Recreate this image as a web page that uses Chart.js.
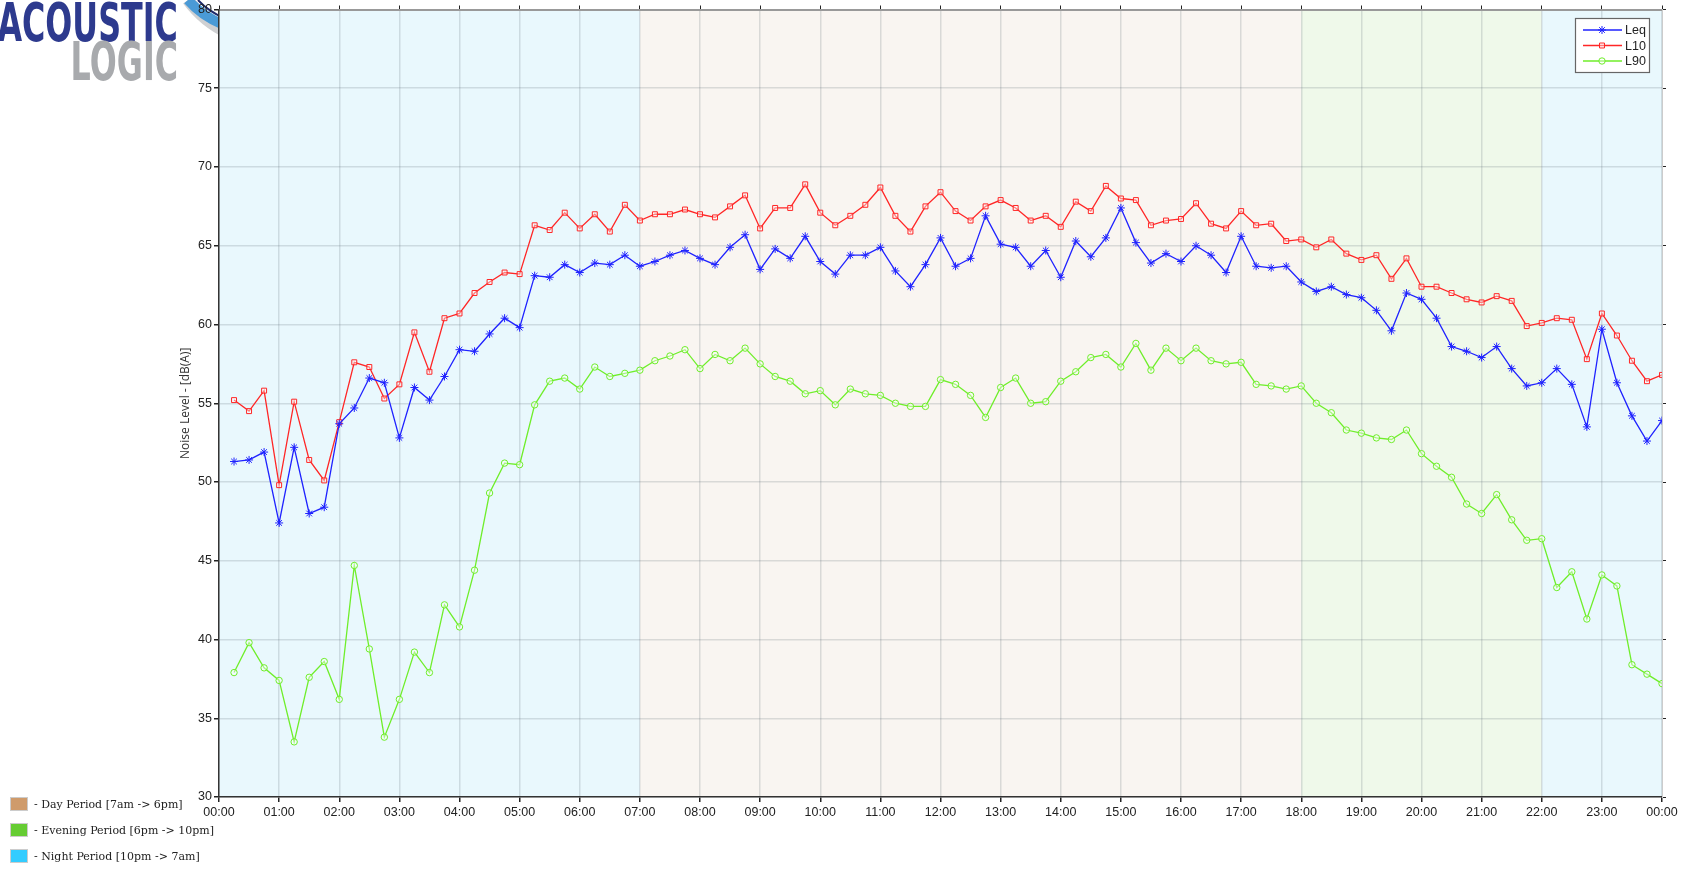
<!DOCTYPE html>
<html>
<head>
<meta charset="utf-8">
<script src="https://cdn.jsdelivr.net/npm/chart.js@4.4.1/dist/chart.umd.min.js"></script>
<style>
  html, body { margin: 0; padding: 0; background: #fff; overflow: hidden; }
  #wrap { position: relative; width: 1683px; height: 870px; }
  #chart1 { position: absolute; left: 0; top: 0; }
  .logo { position: absolute; font-family: "DejaVu Sans", sans-serif; font-weight: bold;
          transform-origin: right top; white-space: nowrap; text-align: right; }
  .key { position: absolute; left: 10px; font-family: "DejaVu Serif", "Liberation Serif", serif;
         font-size: 11px; color: #222; display: flex; align-items: center; }
  .key span.sw { display: inline-block; width: 16px; height: 12px; margin-right: 6px;
                 border: 1px solid #ccc; }
</style>
</head>
<body>
<div id="wrap">
  <svg style="position:absolute;left:180px;top:0" width="80" height="40">
    <path d="M8,0 Q24,22 50,34" stroke="#cfd0d2" stroke-width="12" fill="none"/>
    <path d="M8,0 Q22,16 42,24" stroke="#4a9ad6" stroke-width="10" fill="none"/>
    <path d="M18,0 Q28,11 44,18" stroke="#1d2a6b" stroke-width="2" fill="none"/>
  </svg>
  <canvas id="chart1" width="1683" height="870"></canvas>
  <div class="logo" style="right:1505px;top:-8px;font-size:53px;color:#2d3a8e;transform:scaleX(0.6)">ACOUSTIC</div>
  <div class="logo" style="right:1505px;top:31px;font-size:53px;color:#a8aaad;transform:scaleX(0.6)">LOGIC</div>
  <div class="key" style="top:797px"><span class="sw" style="background:#cf9b6b"></span>- Day Period [7am -&gt; 6pm]</div>
  <div class="key" style="top:823px"><span class="sw" style="background:#66cc33"></span>- Evening Period [6pm -&gt; 10pm]</div>
  <div class="key" style="top:849px"><span class="sw" style="background:#33ccff"></span>- Night Period [10pm -&gt; 7am]</div>
</div>
<script>
// 15 minute intervals, 00:15 .. 24:00 (hours)
const times = [];
for (let i = 1; i <= 96; i++) times.push(i / 4);

const leq = [
    51.3, 51.4, 51.9, 47.4, 52.2, 48.0, 48.4, 53.7, 54.7, 56.6, 56.3, 52.8,
    56.0, 55.2, 56.7, 58.4, 58.3, 59.4, 60.4, 59.8, 63.1, 63.0, 63.8, 63.3,
    63.9, 63.8, 64.4, 63.7, 64.0, 64.4, 64.7, 64.2, 63.8, 64.9, 65.7, 63.5,
    64.8, 64.2, 65.6, 64.0, 63.2, 64.4, 64.4, 64.9, 63.4, 62.4, 63.8, 65.5,
    63.7, 64.2, 66.9, 65.1, 64.9, 63.7, 64.7, 63.0, 65.3, 64.3, 65.5, 67.4,
    65.2, 63.9, 64.5, 64.0, 65.0, 64.4, 63.3, 65.6, 63.7, 63.6, 63.7, 62.7,
    62.1, 62.4, 61.9, 61.7, 60.9, 59.6, 62.0, 61.6, 60.4, 58.6, 58.3, 57.9,
    58.6, 57.2, 56.1, 56.3, 57.2, 56.2, 53.5, 59.7, 56.3, 54.2, 52.6, 53.9
];
const l10 = [
    55.2, 54.5, 55.8, 49.8, 55.1, 51.4, 50.1, 53.8, 57.6, 57.3, 55.3, 56.2,
    59.5, 57.0, 60.4, 60.7, 62.0, 62.7, 63.3, 63.2, 66.3, 66.0, 67.1, 66.1,
    67.0, 65.9, 67.6, 66.6, 67.0, 67.0, 67.3, 67.0, 66.8, 67.5, 68.2, 66.1,
    67.4, 67.4, 68.9, 67.1, 66.3, 66.9, 67.6, 68.7, 66.9, 65.9, 67.5, 68.4,
    67.2, 66.6, 67.5, 67.9, 67.4, 66.6, 66.9, 66.2, 67.8, 67.2, 68.8, 68.0,
    67.9, 66.3, 66.6, 66.7, 67.7, 66.4, 66.1, 67.2, 66.3, 66.4, 65.3, 65.4,
    64.9, 65.4, 64.5, 64.1, 64.4, 62.9, 64.2, 62.4, 62.4, 62.0, 61.6, 61.4,
    61.8, 61.5, 59.9, 60.1, 60.4, 60.3, 57.8, 60.7, 59.3, 57.7, 56.4, 56.8
];
const l90 = [
    37.9, 39.8, 38.2, 37.4, 33.5, 37.6, 38.6, 36.2, 44.7, 39.4, 33.8, 36.2,
    39.2, 37.9, 42.2, 40.8, 44.4, 49.3, 51.2, 51.1, 54.9, 56.4, 56.6, 55.9,
    57.3, 56.7, 56.9, 57.1, 57.7, 58.0, 58.4, 57.2, 58.1, 57.7, 58.5, 57.5,
    56.7, 56.4, 55.6, 55.8, 54.9, 55.9, 55.6, 55.5, 55.0, 54.8, 54.8, 56.5,
    56.2, 55.5, 54.1, 56.0, 56.6, 55.0, 55.1, 56.4, 57.0, 57.9, 58.1, 57.3,
    58.8, 57.1, 58.5, 57.7, 58.5, 57.7, 57.5, 57.6, 56.2, 56.1, 55.9, 56.1,
    55.0, 54.4, 53.3, 53.1, 52.8, 52.7, 53.3, 51.8, 51.0, 50.3, 48.6, 48.0,
    49.2, 47.6, 46.3, 46.4, 43.3, 44.3, 41.3, 44.1, 43.4, 38.4, 37.8, 37.2
];

// assessment periods (hours)
const periods = [
    { from: 0, to: 7, color: '#e9f8fd' },
    { from: 7, to: 18, color: '#f9f5f1' },
    { from: 18, to: 22, color: '#eff9ea' },
    { from: 22, to: 24, color: '#e9f8fd' },
];

const pts = (arr) => arr.map((v, i) => ({ x: times[i], y: v }));

const periodBands = {
    id: 'periodBands',
    beforeDraw(chart) {
        const { ctx, chartArea, scales: { x } } = chart;
        ctx.save();
        periods.forEach(p => {
            const x0 = x.getPixelForValue(p.from);
            const x1 = x.getPixelForValue(p.to);
            ctx.fillStyle = p.color;
            ctx.fillRect(x0, chartArea.top, x1 - x0, chartArea.bottom - chartArea.top);
        });
        ctx.restore();
    }
};

// boxed legend, top right
const boxLegend = {
    id: 'boxLegend',
    afterDraw(chart) {
        const ctx = chart.ctx;
        const bx = 1575, by = 18, bw = 74, bh = 54;
        ctx.save();
        ctx.fillStyle = '#fff';
        ctx.fillRect(bx, by, bw, bh);
        ctx.strokeStyle = '#666';
        ctx.lineWidth = 1.2;
        ctx.strokeRect(bx + 0.5, by + 0.5, bw, bh);
        chart.data.datasets.forEach((ds, i) => {
            const y = by + 12 + i * 15.5;
            ctx.strokeStyle = ds.borderColor;
            ctx.lineWidth = 1.3;
            ctx.beginPath();
            ctx.moveTo(bx + 8, y);
            ctx.lineTo(bx + 47, y);
            ctx.stroke();
            ctx.fillStyle = ds.pointBackgroundColor;
            ctx.lineWidth = 1;
            Chart.helpers.drawPoint(ctx, { pointStyle: ds.pointStyle, radius: ds.pointRadius, rotation: 0, borderWidth: 1 }, bx + 27, y);
            ctx.fillStyle = '#222';
            ctx.font = '12.5px "Liberation Sans", Arial, sans-serif';
            ctx.textBaseline = 'middle';
            ctx.fillText(ds.label, bx + 50, y + 1);
        });
        ctx.restore();
    }
};

const tickFont = { family: '"Liberation Sans", Arial, sans-serif', size: 12.5 };
const hh = (v) => String(v % 24).padStart(2, '0') + ':00';

const ctx1 = document.getElementById('chart1').getContext('2d');

var chart1 = new Chart(ctx1, {
    type: 'line',
    data: {
        datasets: [{
                label: 'Leq',
                data: pts(leq),
                borderColor: '#1f22ff',
                pointBackgroundColor: '#1f22ff',
                pointStyle: 'star',
                pointRadius: 4,
            },
            {
                label: 'L10',
                data: pts(l10),
                borderColor: '#ff2626',
                pointBackgroundColor: 'rgba(255,255,255,0.4)',
                pointStyle: 'rect',
                pointRadius: 3.5,
            },
            {
                label: 'L90',
                data: pts(l90),
                borderColor: '#6fee2a',
                pointBackgroundColor: 'rgba(255,255,255,0.4)',
                pointStyle: 'circle',
                pointRadius: 3.2,
            },
        ],
    },
    options: {
        responsive: false,
        animation: false,
        layout: { padding: { left: 175, right: 17, top: 2, bottom: 0 } },
        elements: {
            line: { borderWidth: 1.3, tension: 0 },
            point: { borderWidth: 1, hoverRadius: 4 },
        },
        scales: {
            x: {
                type: 'linear',
                min: 0,
                max: 24,
                afterFit(s) { s.height = 73; },
                ticks: { stepSize: 1, autoSkip: false, maxRotation: 0, padding: 3, color: '#222', font: tickFont, callback: hh },
                grid: { color: 'rgba(90,105,115,0.2)', lineWidth: 1.5, tickLength: 5, tickColor: '#222' },
                border: { color: '#333', width: 1.5 },
            },
            x2: {
                type: 'linear',
                position: 'top',
                min: 0,
                max: 24,
                afterFit(s) { s.height = 4; },
                ticks: { stepSize: 1, display: false },
                grid: { drawOnChartArea: false, tickLength: 4, tickColor: '#222' },
                border: { color: '#999', width: 2 },
            },
            y: {
                min: 30,
                max: 80,
                afterFit(s) { s.width = 44; },
                ticks: { stepSize: 5, padding: 2, color: '#222', font: tickFont },
                grid: { color: 'rgba(90,105,115,0.2)', lineWidth: 1.5, tickLength: 5, tickColor: '#222' },
                border: { color: '#333', width: 1.5 },
                title: {
                    display: true,
                    text: 'Noise Level - [dB(A)]',
                    color: '#333',
                    padding: { top: 3, bottom: 3 },
                    font: { family: '"Open Sans", sans-serif', size: 12 },
                },
            },
            y2: {
                position: 'right',
                min: 30,
                max: 80,
                afterFit(s) { s.width = 4; },
                ticks: { stepSize: 5, display: false },
                grid: { drawOnChartArea: false, tickLength: 4, tickColor: '#222' },
                border: { color: '#ccc', width: 1 },
            },
        },
        plugins: {
            legend: { display: false },
            tooltip: { enabled: false },
        },
    },
    plugins: [periodBands, boxLegend],
});
</script>
</body>
</html>
